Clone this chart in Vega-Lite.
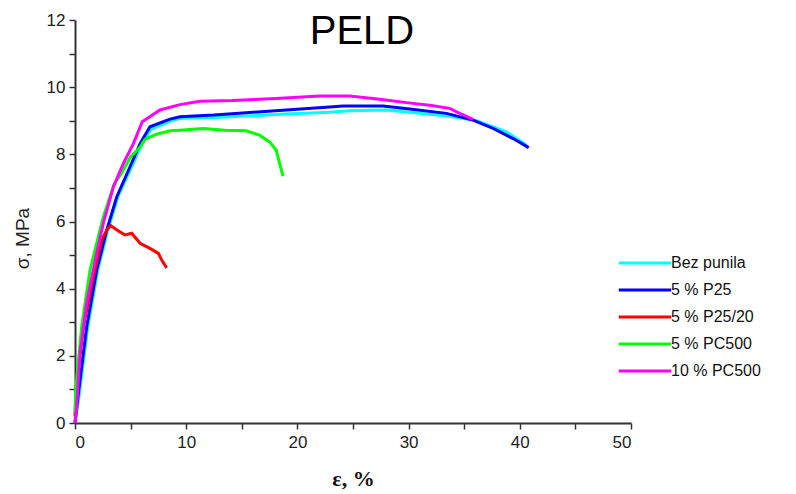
{
  "$schema": "https://vega.github.io/schema/vega-lite/v6.json",
  "width": 556,
  "height": 403,
  "autosize": {"type": "none"},
  "padding": {"left": 75, "top": 20, "right": 165, "bottom": 71},
  "background": "white",
  "config": {"view": {"stroke": null}, "font": "Liberation Sans"},
  "title": {"text": "PELD", "fontSize": 40, "fontWeight": "normal", "font": "Liberation Sans", "color": "#000000", "anchor": "middle", "baseline": "alphabetic", "offset": 0, "dy": 73, "dx": 9},
  "data": {"values": [
    {"s": "Bez punila", "x": 0, "y": 0},
    {"s": "Bez punila", "x": 0.4, "y": 0.88},
    {"s": "Bez punila", "x": 1.15, "y": 2.87},
    {"s": "Bez punila", "x": 2.05, "y": 4.55},
    {"s": "Bez punila", "x": 2.95, "y": 5.74},
    {"s": "Bez punila", "x": 3.85, "y": 6.73},
    {"s": "Bez punila", "x": 5.05, "y": 7.6},
    {"s": "Bez punila", "x": 5.95, "y": 8.27},
    {"s": "Bez punila", "x": 6.84, "y": 8.74},
    {"s": "Bez punila", "x": 8.54, "y": 8.98},
    {"s": "Bez punila", "x": 9.44, "y": 9.07},
    {"s": "Bez punila", "x": 12.5, "y": 9.1},
    {"s": "Bez punila", "x": 15.4, "y": 9.14},
    {"s": "Bez punila", "x": 19.0, "y": 9.2},
    {"s": "Bez punila", "x": 22.9, "y": 9.25},
    {"s": "Bez punila", "x": 24.7, "y": 9.3},
    {"s": "Bez punila", "x": 28.0, "y": 9.32},
    {"s": "Bez punila", "x": 31.0, "y": 9.22},
    {"s": "Bez punila", "x": 34.0, "y": 9.12},
    {"s": "Bez punila", "x": 36.1, "y": 9.0},
    {"s": "Bez punila", "x": 38.8, "y": 8.67},
    {"s": "Bez punila", "x": 40.6, "y": 8.27},
    {"s": "5 % P25", "x": 0, "y": 0},
    {"s": "5 % P25", "x": 0.3, "y": 0.88},
    {"s": "5 % P25", "x": 1.05, "y": 2.87},
    {"s": "5 % P25", "x": 1.95, "y": 4.55},
    {"s": "5 % P25", "x": 2.85, "y": 5.74},
    {"s": "5 % P25", "x": 3.75, "y": 6.73},
    {"s": "5 % P25", "x": 4.95, "y": 7.63},
    {"s": "5 % P25", "x": 5.85, "y": 8.32},
    {"s": "5 % P25", "x": 6.74, "y": 8.82},
    {"s": "5 % P25", "x": 8.54, "y": 9.05},
    {"s": "5 % P25", "x": 9.44, "y": 9.12},
    {"s": "5 % P25", "x": 12.5, "y": 9.17},
    {"s": "5 % P25", "x": 15.4, "y": 9.24},
    {"s": "5 % P25", "x": 19.0, "y": 9.32},
    {"s": "5 % P25", "x": 22.9, "y": 9.41},
    {"s": "5 % P25", "x": 24.1, "y": 9.44},
    {"s": "5 % P25", "x": 27.7, "y": 9.44},
    {"s": "5 % P25", "x": 30.1, "y": 9.35},
    {"s": "5 % P25", "x": 33.4, "y": 9.22},
    {"s": "5 % P25", "x": 35.8, "y": 9.02},
    {"s": "5 % P25", "x": 37.6, "y": 8.77},
    {"s": "5 % P25", "x": 39.4, "y": 8.47},
    {"s": "5 % P25", "x": 40.8, "y": 8.2},
    {"s": "5 % P25/20", "x": 0, "y": 0.2},
    {"s": "5 % P25/20", "x": 0.1, "y": 0.95},
    {"s": "5 % P25/20", "x": 0.75, "y": 2.87},
    {"s": "5 % P25/20", "x": 1.65, "y": 4.35},
    {"s": "5 % P25/20", "x": 2.4, "y": 5.45},
    {"s": "5 % P25/20", "x": 2.85, "y": 5.74},
    {"s": "5 % P25/20", "x": 3.2, "y": 5.88},
    {"s": "5 % P25/20", "x": 3.9, "y": 5.72},
    {"s": "5 % P25/20", "x": 4.5, "y": 5.6},
    {"s": "5 % P25/20", "x": 5.1, "y": 5.65},
    {"s": "5 % P25/20", "x": 5.85, "y": 5.35},
    {"s": "5 % P25/20", "x": 6.74, "y": 5.2},
    {"s": "5 % P25/20", "x": 7.5, "y": 5.05},
    {"s": "5 % P25/20", "x": 7.8, "y": 4.85},
    {"s": "5 % P25/20", "x": 8.24, "y": 4.62},
    {"s": "5 % PC500", "x": 0, "y": 0.3},
    {"s": "5 % PC500", "x": 0.05, "y": 0.95},
    {"s": "5 % PC500", "x": 0.6, "y": 2.87},
    {"s": "5 % PC500", "x": 1.35, "y": 4.55},
    {"s": "5 % PC500", "x": 2.55, "y": 6.14},
    {"s": "5 % PC500", "x": 3.5, "y": 7.1},
    {"s": "5 % PC500", "x": 4.2, "y": 7.45},
    {"s": "5 % PC500", "x": 4.95, "y": 7.9},
    {"s": "5 % PC500", "x": 5.85, "y": 8.22},
    {"s": "5 % PC500", "x": 6.3, "y": 8.45},
    {"s": "5 % PC500", "x": 7.35, "y": 8.6},
    {"s": "5 % PC500", "x": 8.54, "y": 8.7},
    {"s": "5 % PC500", "x": 9.44, "y": 8.72},
    {"s": "5 % PC500", "x": 11.5, "y": 8.77},
    {"s": "5 % PC500", "x": 13.5, "y": 8.72},
    {"s": "5 % PC500", "x": 15.4, "y": 8.7},
    {"s": "5 % PC500", "x": 16.6, "y": 8.57},
    {"s": "5 % PC500", "x": 17.5, "y": 8.37},
    {"s": "5 % PC500", "x": 18.1, "y": 8.12},
    {"s": "5 % PC500", "x": 18.4, "y": 7.73},
    {"s": "5 % PC500", "x": 18.7, "y": 7.35},
    {"s": "10 % PC500", "x": 0, "y": 0},
    {"s": "10 % PC500", "x": 0.15, "y": 0.49},
    {"s": "10 % PC500", "x": 0.45, "y": 2.08},
    {"s": "10 % PC500", "x": 1.05, "y": 3.57},
    {"s": "10 % PC500", "x": 1.95, "y": 5.06},
    {"s": "10 % PC500", "x": 2.55, "y": 5.95},
    {"s": "10 % PC500", "x": 3.45, "y": 7.03},
    {"s": "10 % PC500", "x": 4.35, "y": 7.73},
    {"s": "10 % PC500", "x": 5.25, "y": 8.32},
    {"s": "10 % PC500", "x": 6.05, "y": 8.97},
    {"s": "10 % PC500", "x": 7.64, "y": 9.32},
    {"s": "10 % PC500", "x": 9.44, "y": 9.48},
    {"s": "10 % PC500", "x": 11.24, "y": 9.58},
    {"s": "10 % PC500", "x": 14.2, "y": 9.6},
    {"s": "10 % PC500", "x": 18.1, "y": 9.66},
    {"s": "10 % PC500", "x": 22.0, "y": 9.74},
    {"s": "10 % PC500", "x": 24.7, "y": 9.74},
    {"s": "10 % PC500", "x": 27.4, "y": 9.64},
    {"s": "10 % PC500", "x": 29.8, "y": 9.54},
    {"s": "10 % PC500", "x": 31.9, "y": 9.46},
    {"s": "10 % PC500", "x": 33.7, "y": 9.37},
    {"s": "10 % PC500", "x": 34.6, "y": 9.22},
    {"s": "10 % PC500", "x": 35.8, "y": 9.04}
  ]},
  "mark": {"type": "line", "strokeWidth": 3, "interpolate": "linear"},
  "encoding": {
    "x": {"field": "x", "type": "quantitative",
      "scale": {"domain": [0, 50], "nice": false, "zero": false},
      "axis": {"title": "ε, %", "values": [0, 5, 10, 15, 20, 25, 30, 35, 40, 45, 50],
        "labelExpr": "datum.value % 10 == 0 ? datum.label : ''",
        "grid": false, "domainColor": "#333333", "domainWidth": 2, "tickColor": "#333333", "tickWidth": 1.5, "tickSize": 6,
        "labelFont": "Liberation Sans", "labelFontSize": 17, "labelColor": "#222222", "labelPadding": 5,
        "titleFont": "Liberation Serif", "titleFontSize": 22, "titleFontWeight": "bold", "titleColor": "#111111", "titlePadding": 18}},
    "y": {"field": "y", "type": "quantitative",
      "scale": {"domain": [0, 12], "nice": false, "zero": false},
      "axis": {"title": "σ, MPa", "values": [0, 1, 2, 3, 4, 5, 6, 7, 8, 9, 10, 11, 12],
        "labelExpr": "datum.value % 2 == 0 ? datum.label : ''",
        "grid": false, "domainColor": "#333333", "domainWidth": 2, "tickColor": "#333333", "tickWidth": 1.5, "tickSize": 6,
        "labelFont": "Liberation Sans", "labelFontSize": 17, "labelColor": "#222222", "labelPadding": 4,
        "titleFont": "Liberation Sans", "titleFontSize": 19, "titleFontWeight": "normal", "titleColor": "#222222", "titlePadding": 14, "titleY": 218}},
    "color": {"field": "s", "type": "nominal",
      "scale": {"domain": ["Bez punila", "5 % P25", "5 % P25/20", "5 % PC500", "10 % PC500"],
        "range": ["#00ffff", "#0000ff", "#ff0000", "#00ff00", "#ff00ff"]},
      "legend": {"title": null, "orient": "none", "legendX": 558, "legendY": 231,
        "symbolType": "M-2.5,0H2.5", "symbolSize": 440, "symbolStrokeWidth": 3,
        "labelFont": "Liberation Sans", "labelFontSize": 16, "labelColor": "#111111", "labelOffset": 14, "rowPadding": 7}}
  }
}
